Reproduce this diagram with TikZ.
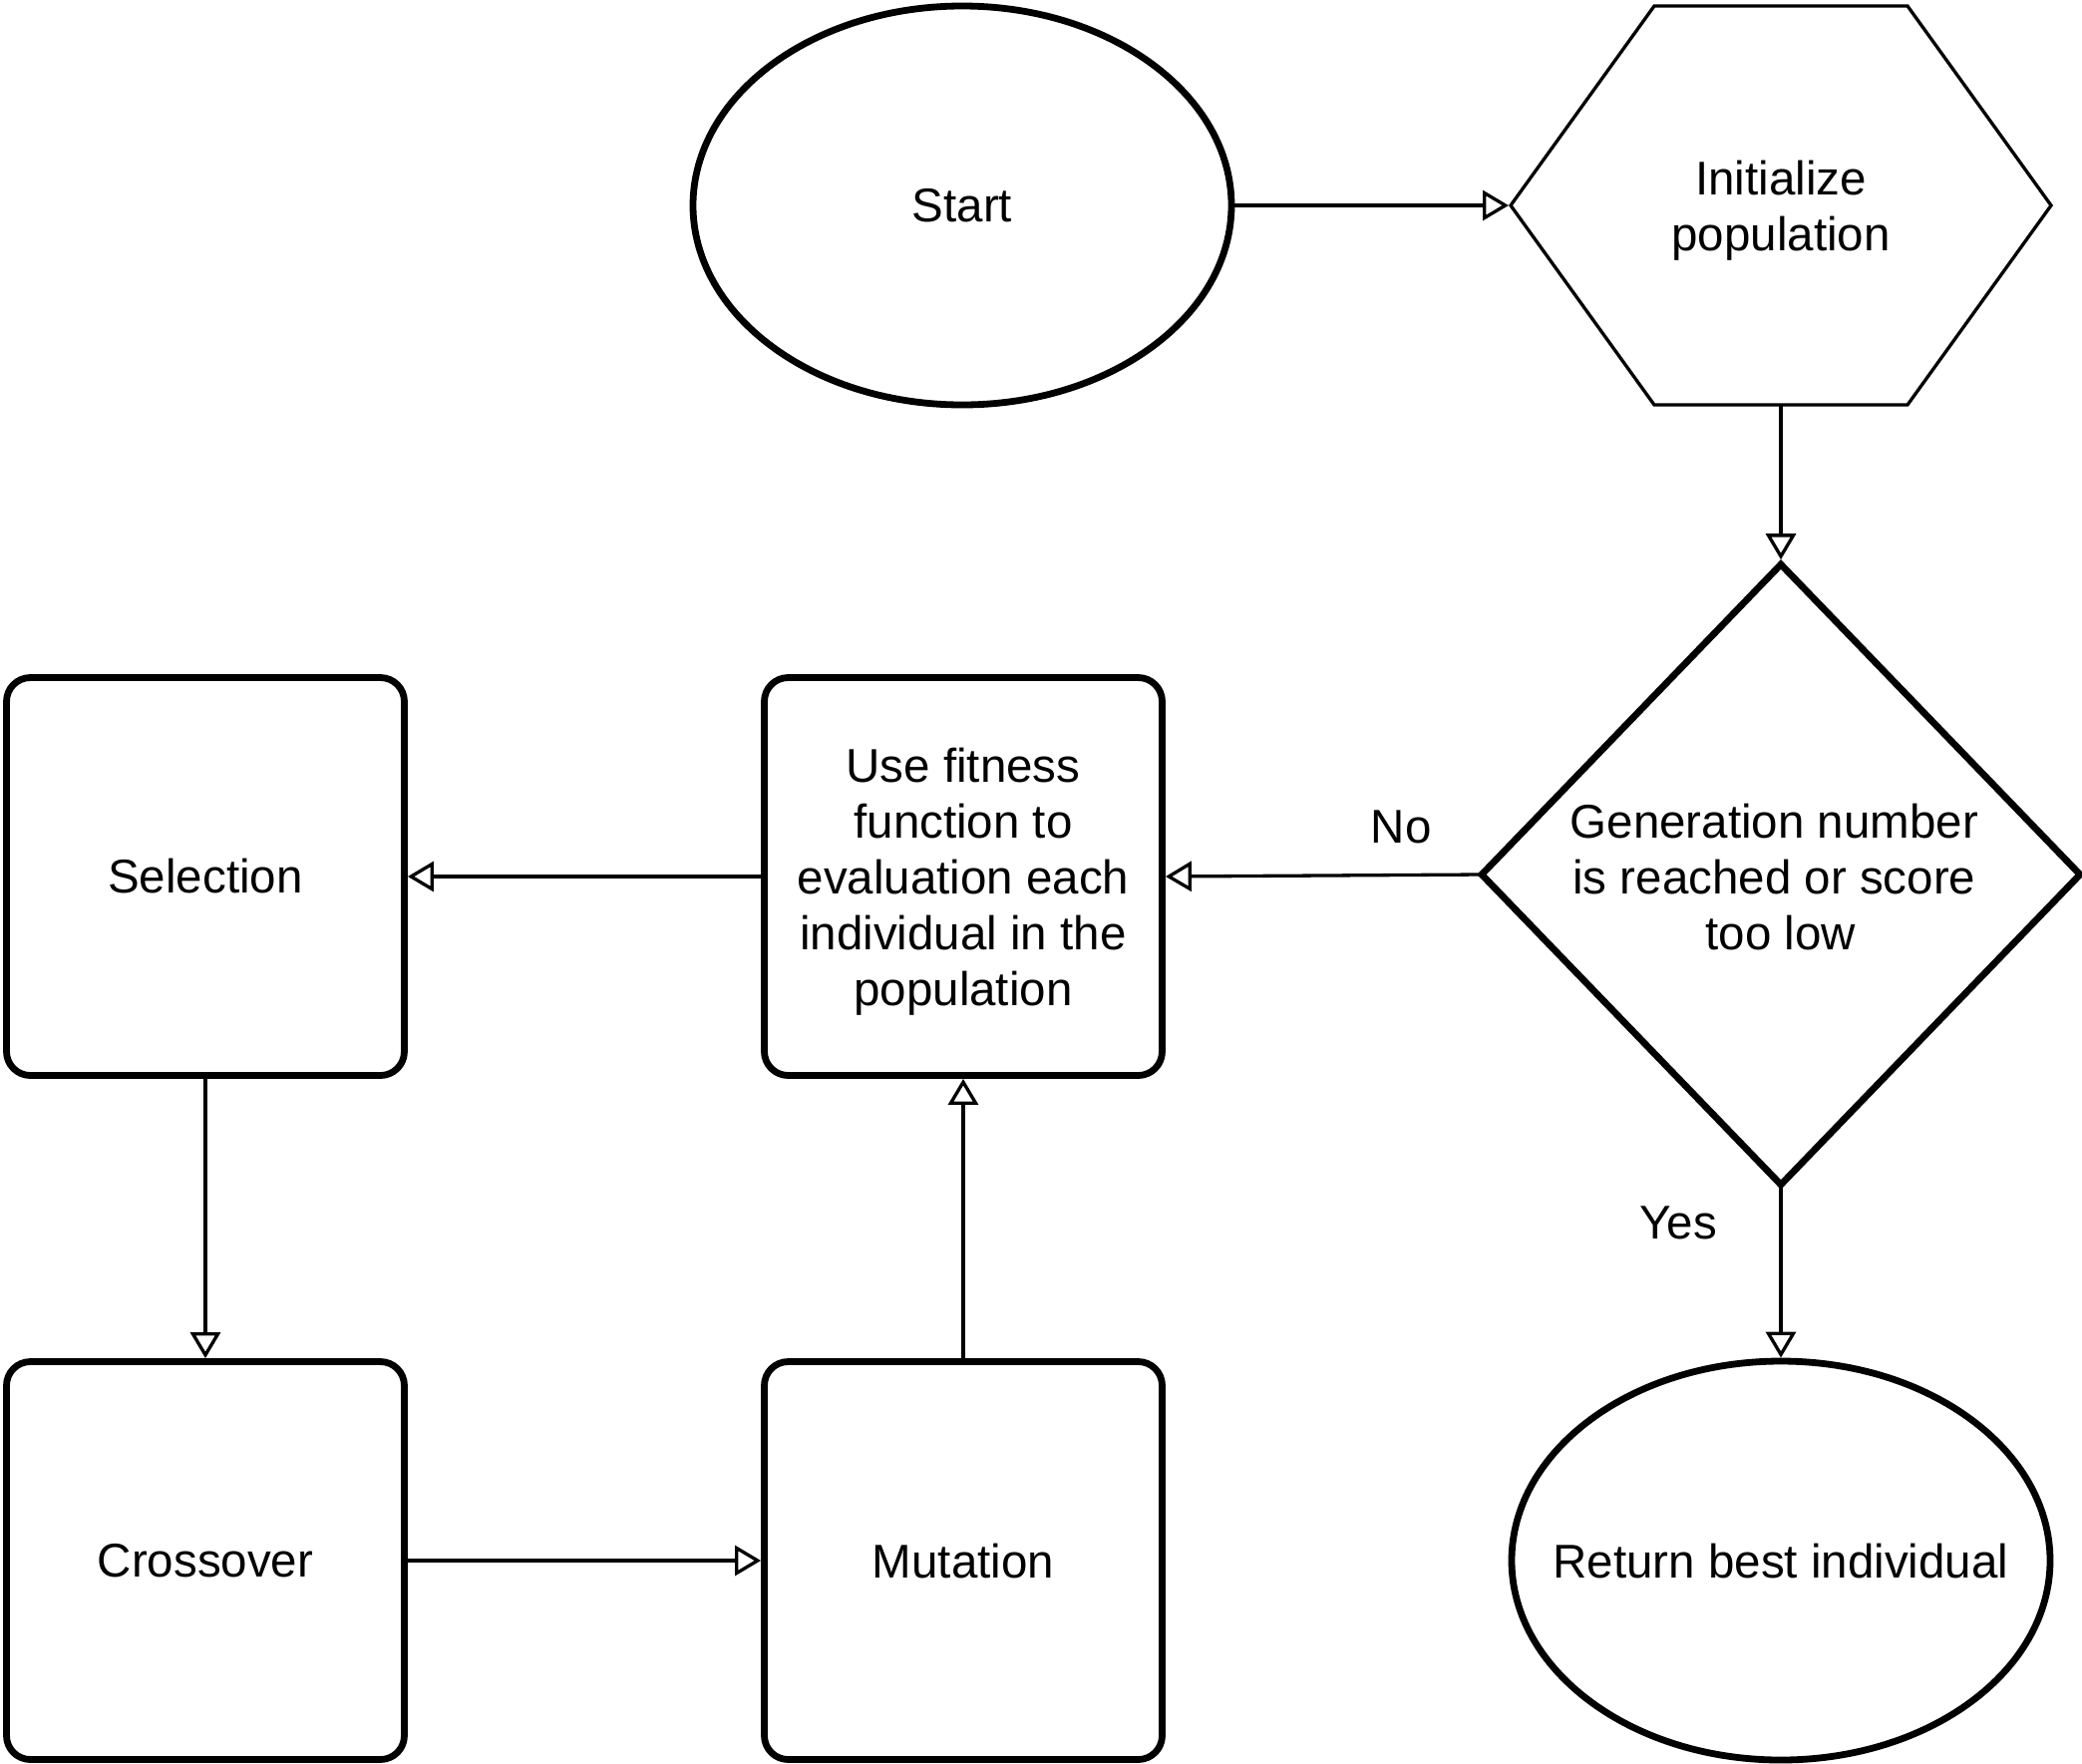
\documentclass[tikz,border=0pt]{standalone}
\usepackage{fontspec}
\setmainfont{Liberation Sans}
\usetikzlibrary{arrows.meta,calc,shapes.geometric}
\newcommand\tsp{\kern0.278em}
\tikzset{
  base/.style={font=\fontsize{23.75}{28}\selectfont, align=center, inner sep=0pt, outer sep=0pt},
  thickline/.style={line width=3.4pt},
  thinline/.style={line width=1.65pt},
  procbox/.style={base, draw, thickline, rounded corners=12pt, minimum width=199.5pt, minimum height=199.5pt, outer sep=1.7pt},
  oval/.style={base, draw, thickline, ellipse, minimum width=270pt, minimum height=200pt, outer sep=1.7pt},
  conn/.style={thinline, -{Triangle[open, length=13pt, width=15pt]}},
  lbl/.style={base}
}
\begin{document}
\begin{tikzpicture}[x=0.5pt, y=-0.5pt]
\useasboundingbox[fill=white] (0,0) rectangle (2088,1768);

% nodes
\node[oval] (start) at (965,206) {\makebox[0pt]{Start}};
\node[base, minimum width=271pt, minimum height=200pt] (init) at (1786,206) {};
\node[base, yshift=-2.7pt] (inittext) at (init) {Initialize\\population};
\draw[thinline] (init.west) -- ($(init.north west)+(72pt,0pt)$) -- ($(init.north east)+(-72pt,0pt)$)
  -- (init.east) -- ($(init.south east)+(-72pt,0pt)$) -- ($(init.south west)+(72pt,0pt)$) -- cycle;

\node[base, minimum width=300pt, minimum height=311pt] (dia) at (1786,877) {};
\node[base, yshift=-1.3pt] (diatext) at (dia) {Generation number\tsp\\is reached or score\tsp\\too low};
\draw[thickline] (dia.north) -- (dia.east) -- (dia.south) -- (dia.west) -- cycle;

\node[procbox] (eval) at (966,879) {};
\node[base, yshift=-2.7pt] (evaltext) at (eval) {Use fitness\\function to\\evaluation each\\individual in the\\population};
\node[procbox] (sel) at (206,879) {Selection};
\node[procbox] (cross) at (206,1565) {Crossover};
\node[procbox] (mut) at (966,1565) {Mutation};
\node[oval] (ret) at (1786,1565) {\makebox[0pt]{Return best individual}};

% connectors
\draw[conn] (start.east) -- ($(init.west)+(-1pt,0pt)$);
\draw[conn] (init.south) -- ($(dia.north)+(0pt,2.4pt)$);
\draw[conn] (dia.west) -- node[lbl, pos=0.255, yshift=24.3pt] (no) {No} (eval.east);
\draw[conn] (eval.west) -- (sel.east);
\draw[conn] (sel.south) -- (cross.north);
\draw[conn] (cross.east) -- (mut.west);
\draw[conn] (mut.north) -- (eval.south);
\draw[conn] (dia.south) -- node[lbl, pos=0.2, xshift=-51.5pt, yshift=-2pt] (yes) {Yes} (ret.north);
\end{tikzpicture}
\end{document}
